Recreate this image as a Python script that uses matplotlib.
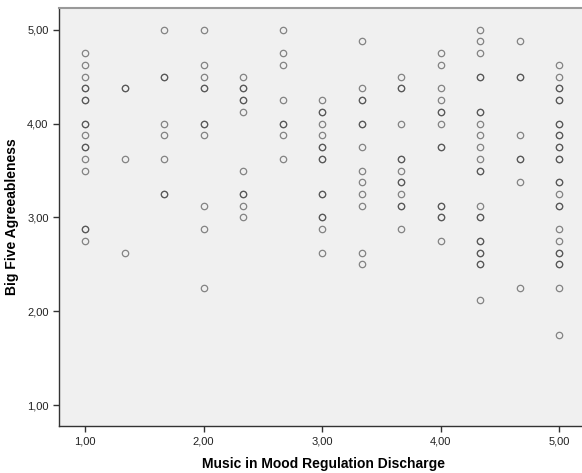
import matplotlib
matplotlib.use("Agg")
import matplotlib.pyplot as plt
from matplotlib.ticker import FuncFormatter

# x levels (Music in Mood Regulation Discharge) and agreeableness scores per level
# repeated values = overlapping cases (drawn darker)
music_levels = [1.0, 4 / 3, 5 / 3, 2.0, 7 / 3, 8 / 3, 3.0, 10 / 3, 11 / 3, 4.0, 13 / 3, 14 / 3, 5.0]

agree_1_00 = [4.75, 4.625, 4.5, 4.375, 4.375, 4.25, 4.25, 4.0, 4.0, 3.875, 3.75, 3.75,
              3.625, 3.5, 2.875, 2.875, 2.75]
agree_1_33 = [4.375, 4.375, 3.625, 2.625]
agree_1_67 = [5.0, 4.5, 4.5, 4.0, 3.875, 3.625, 3.25, 3.25]
agree_2_00 = [5.0, 4.625, 4.5, 4.375, 4.375, 4.0, 4.0, 3.875, 3.125, 2.875, 2.25]
agree_2_33 = [4.5, 4.375, 4.375, 4.25, 4.25, 4.125, 3.5, 3.25, 3.25, 3.125, 3.0]
agree_2_67 = [5.0, 4.75, 4.625, 4.25, 4.0, 4.0, 3.875, 3.625]
agree_3_00 = [4.25, 4.125, 4.125, 4.0, 3.875, 3.75, 3.75, 3.625, 3.625, 3.25, 3.25,
              3.0, 3.0, 2.875, 2.625]
agree_3_33 = [4.875, 4.375, 4.25, 4.25, 4.0, 4.0, 3.75, 3.5, 3.375, 3.25, 3.125,
              2.625, 2.5]
agree_3_67 = [4.5, 4.375, 4.375, 4.0, 3.625, 3.625, 3.5, 3.375, 3.375, 3.25,
              3.125, 3.125, 2.875]
agree_4_00 = [4.75, 4.625, 4.375, 4.25, 4.125, 4.125, 4.0, 3.75, 3.75, 3.125, 3.125,
              3.0, 3.0, 2.75]
agree_4_33 = [5.0, 4.875, 4.75, 4.5, 4.5, 4.125, 4.125, 4.0, 3.875, 3.75, 3.625,
              3.5, 3.5, 3.125, 3.0, 3.0, 2.75, 2.75, 2.625, 2.625, 2.5, 2.5, 2.125]
agree_4_67 = [4.875, 4.5, 4.5, 3.875, 3.625, 3.625, 3.375, 2.25]
agree_5_00 = [4.625, 4.5, 4.375, 4.375, 4.25, 4.25, 4.0, 4.0, 3.875, 3.875, 3.75,
              3.75, 3.625, 3.625, 3.375, 3.375, 3.25, 3.125, 3.125, 2.875, 2.75,
              2.625, 2.625, 2.5, 2.5, 2.25, 1.75]

agreeableness = [agree_1_00, agree_1_33, agree_1_67, agree_2_00, agree_2_33, agree_2_67,
                 agree_3_00, agree_3_33, agree_3_67, agree_4_00, agree_4_33, agree_4_67,
                 agree_5_00]

x_ticks = [1, 2, 3, 4, 5]
y_ticks = [1, 2, 3, 4, 5]

plt.rcParams["font.family"] = ["Liberation Sans", "DejaVu Sans"]

fig = plt.figure(figsize=(5.82, 4.73), dpi=100)
ax = fig.add_axes([59 / 582, 47 / 473, 523 / 582, 418 / 473])
ax.set_facecolor("#f0f0f0")

xs, ys = [], []
for lvl, vals in zip(music_levels, agreeableness):
    xs += [lvl] * len(vals)
    ys += vals

ax.plot(xs, ys, linestyle="none", marker="o", markersize=4.6,
        markerfacecolor="none", markeredgecolor="#3a3a3a",
        markeredgewidth=0.9, alpha=0.6)

ax.set_xlim(0.78, 5.19)
ax.set_ylim(0.78, 5.23)
ax.set_xticks(x_ticks)
ax.set_yticks(y_ticks)
fmt = FuncFormatter(lambda v, p: f"{v:.2f}".replace(".", ","))
ax.xaxis.set_major_formatter(fmt)
ax.yaxis.set_major_formatter(fmt)
ax.tick_params(axis="both", direction="out", length=4, width=1, color="#333333",
               labelsize=8, labelcolor="#222222")

for side in ["left", "bottom"]:
    ax.spines[side].set_color("#333333")
    ax.spines[side].set_linewidth(1)
ax.spines["top"].set_color("#999999")
ax.spines["top"].set_linewidth(1.5)
ax.spines["right"].set_visible(False)

ax.set_xlabel("Music in Mood Regulation Discharge", fontsize=10, fontweight="bold",
              labelpad=5)
ax.xaxis.set_label_coords((324 - 59) / 523, -0.075)
ax.set_ylabel("Big Five Agreeableness", fontsize=10, fontweight="bold", labelpad=6)

fig.savefig("out.png", dpi=100)
